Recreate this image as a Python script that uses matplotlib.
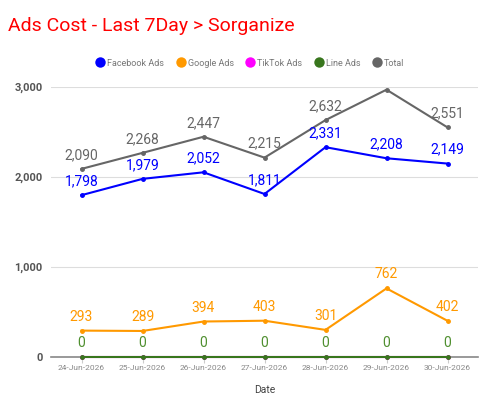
import matplotlib
matplotlib.use("Agg")
import matplotlib.pyplot as plt
from matplotlib.lines import Line2D

plt.rcParams['font.family'] = ['Roboto', 'DejaVu Sans']

dates = ["24-Jun-2026", "25-Jun-2026", "26-Jun-2026", "27-Jun-2026",
         "28-Jun-2026", "29-Jun-2026", "30-Jun-2026"]
facebook = [1798, 1979, 2052, 1811, 2331, 2208, 2149]
google = [293, 289, 394, 403, 301, 762, 402]
tiktok = [0, 0, 0, 0, 0, 0, 0]
line_ads = [0, 0, 0, 0, 0, 0, 0]
total = [2090, 2268, 2447, 2215, 2632, 2970, 2551]
total_labeled = [True, True, True, True, True, False, True]

series = [
    ("Facebook Ads", facebook, "#0000ff", "#0000ff", True),
    ("Google Ads", google, "#ff9900", "#ff9900", True),
    ("TikTok Ads", tiktok, "#ff00ff", "#ff00ff", False),
    ("Line Ads", line_ads, "#38761d", "#4f8f2f", True),
    ("Total", total, "#666666", "#666666", True),
]

fig = plt.figure(figsize=(5.0, 4.15), dpi=100)
ax = fig.add_axes([0.102, 0.1398, 0.854, 0.6506])
x = list(range(len(dates)))

for name, vals, col, lcol, show in series:
    ax.plot(x, vals, color=col, lw=1.5, marker='o', ms=2.5, zorder=3, clip_on=False)
    if show:
        for i, v in enumerate(vals):
            if name == "Total" and not total_labeled[i]:
                continue
            ax.annotate(f"{v:,}", (i, v), xytext=(0, 5), textcoords='offset points',
                        ha='center', va='bottom', color=lcol, fontsize=10, zorder=4)

ax.set_xlim(-0.5, 6.5)
ax.set_ylim(0, 3000)
ax.set_yticks([0, 1000, 2000, 3000])
ax.set_yticklabels(["0", "1,000", "2,000", "3,000"])
ax.set_xticks(x)
ax.set_xticklabels(dates)
ax.grid(axis='y', color='#dddddd', lw=0.8)
ax.set_axisbelow(True)
for s in ['top', 'right', 'left']:
    ax.spines[s].set_visible(False)
ax.spines['bottom'].set_color('#888888')
ax.spines['bottom'].set_linewidth(1.2)
ax.tick_params(axis='y', length=0, labelsize=8, labelcolor='#555555', pad=6)
ax.tick_params(axis='x', length=4, color='#cccccc', labelsize=6, labelcolor='#888888', pad=2)
for lab in ax.get_yticklabels():
    lab.set_fontweight('bold')
ax.set_xlabel("Date", fontsize=7.5, color='#444444', labelpad=10)

fig.text(0.016, 0.925, "Ads Cost - Last 7Day > Sorganize", color='#ff0000', fontsize=14,
         ha='left', va='baseline')

handles = [Line2D([], [], ls='none', marker='o', ms=7.5, color=c, markeredgewidth=0)
           for _, _, c, _, _ in series]
fig.legend(handles, [s[0] for s in series], loc='center', bbox_to_anchor=(0.5, 0.848),
           ncol=5, frameon=False, fontsize=6.5, labelcolor='#777777',
           handletextpad=0.3, columnspacing=1.3, handlelength=1.0)

fig.savefig("out.png", dpi=100)
